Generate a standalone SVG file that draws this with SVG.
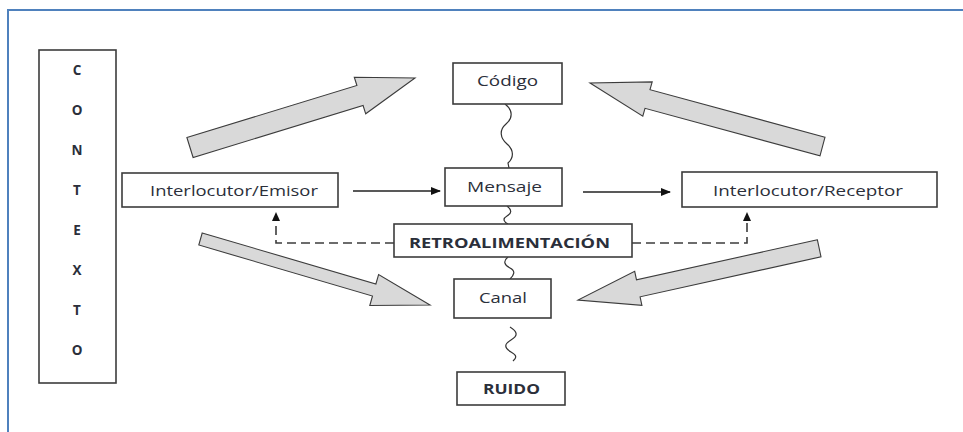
<svg xmlns="http://www.w3.org/2000/svg" width="963" height="432" viewBox="0 0 963 432">
<style>
.box{fill:#fff;stroke:#3c3c3c;stroke-width:1.6}
.big{fill:#d9d9d9;stroke:#3c3c3c;stroke-width:1.1;stroke-linejoin:miter}
.t{font-family:"Open Sans","Liberation Sans",sans-serif;font-size:14px;fill:#2b2f3a;text-anchor:middle}
.b{font-weight:bold}
.c{font-family:"Open Sans","Liberation Sans",sans-serif;font-size:13.5px;font-weight:bold;fill:#2b2f3a;text-anchor:middle}
.ln{fill:none;stroke:#222;stroke-width:1.5}
.dash{fill:none;stroke:#3c3c3c;stroke-width:1.6;stroke-dasharray:9 5}
.sq{fill:none;stroke:#333;stroke-width:1.2}
</style>
<defs>
<marker id="ah" markerWidth="10" markerHeight="8" refX="9" refY="4" orient="auto" markerUnits="userSpaceOnUse">
<path d="M0,0 L10,4 L0,8 Z" fill="#111"/>
</marker>
</defs>
<rect x="8" y="10" width="1000" height="500" fill="none" stroke="#4f81bd" stroke-width="2"/>

<g id="contexto">
<rect class="box" x="39" y="50" width="77" height="333"/>
<text class="c" x="77" y="75">C</text>
<text class="c" x="77" y="115">O</text>
<text class="c" x="77" y="155">N</text>
<text class="c" x="77" y="195">T</text>
<text class="c" x="77" y="235">E</text>
<text class="c" x="77" y="275">X</text>
<text class="c" x="77" y="315">T</text>
<text class="c" x="77" y="355">O</text>
</g>

<g id="connectors">
<polygon class="big" points="186.9,137.5 356.9,85.5 354.3,77.2 415,78 365.7,113.8 363.1,105.5 193.1,157.5"/>
<polygon class="big" points="825,137.2 650,89.7 652.2,81.9 590,83 642.8,116.1 645,108.3 820,155.8"/>
<polygon class="big" points="202.2,233 375.9,284 378.6,274.5 430,305 369.8,305.5 372.5,296 198.8,245"/>
<polygon class="big" points="817.4,239.8 636.5,279.8 634.7,271.3 578,300 641.9,305.3 640.1,296.8 821,256.8"/>
<line class="ln" x1="353" y1="191" x2="440" y2="191" marker-end="url(#ah)"/>
<line class="ln" x1="583" y1="192" x2="670" y2="192" marker-end="url(#ah)"/>
<path class="dash" d="M394,243 H276 V220"/>
<path class="dash" d="M632,243 H747 V220"/>
<path d="M272,221 L276,212 L280,221 Z" fill="#111"/>
<path d="M743,221 L747,212 L751,221 Z" fill="#111"/>
<path class="sq" d="M505,104 C513,110 513,118 506,124 C499,130 500,138 507,144 C514,150 514,158 508,163 L509,168"/>
<path class="sq" d="M507,206 C512,210 512,213 507,216 C502,219 504,222 508,224"/>
<path class="sq" d="M508,257 C503,261 504,265 510,268 C516,271 514,275 510,279"/>
<path class="sq" d="M510,327 C518,332 518,336 511,340 C504,344 504,348 511,352 C518,356 516,358 513,361"/>
</g>

<g id="codigo">
<rect class="box" x="453" y="63" width="109" height="41"/>
<text class="t" x="507.5" y="86" textLength="61" lengthAdjust="spacingAndGlyphs">Código</text>
</g>
<g id="emisor">
<rect class="box" x="122" y="173" width="216" height="34"/>
<text class="t" x="234" y="196" textLength="168" lengthAdjust="spacingAndGlyphs">Interlocutor/Emisor</text>
</g>
<g id="mensaje">
<rect class="box" x="445" y="168" width="117" height="38"/>
<text class="t" x="504.5" y="192" textLength="75" lengthAdjust="spacingAndGlyphs">Mensaje</text>
</g>
<g id="receptor">
<rect class="box" x="682" y="172" width="255" height="35"/>
<text class="t" x="808" y="196" textLength="190" lengthAdjust="spacingAndGlyphs">Interlocutor/Receptor</text>
</g>
<g id="retroalimentacion">
<rect class="box" x="394" y="224" width="238" height="33"/>
<text class="t b" x="509.5" y="247.5" textLength="201" lengthAdjust="spacingAndGlyphs">RETROALIMENTACIÓN</text>
</g>
<g id="canal">
<rect class="box" x="454" y="279" width="97" height="39"/>
<text class="t" x="503" y="302.5" textLength="48" lengthAdjust="spacingAndGlyphs">Canal</text>
</g>
<g id="ruido">
<rect class="box" x="457" y="372" width="108" height="33"/>
<text class="t b" x="511.5" y="394" textLength="57" lengthAdjust="spacingAndGlyphs">RUIDO</text>
</g>
</svg>
